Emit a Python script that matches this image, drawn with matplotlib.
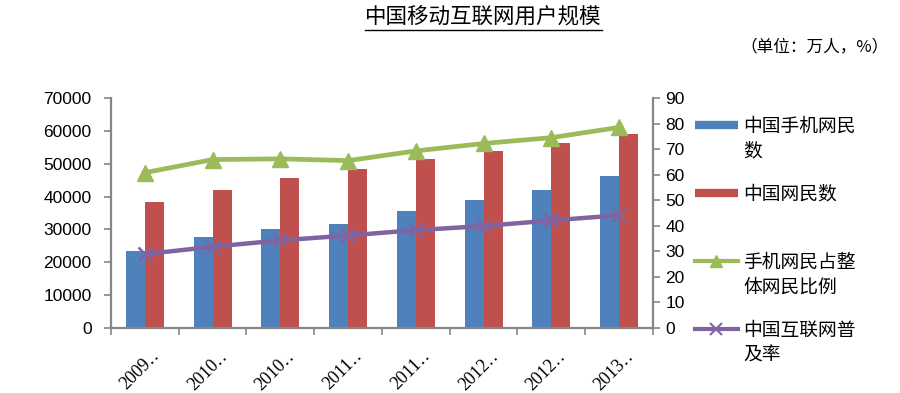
import matplotlib
matplotlib.use('Agg')
import matplotlib.pyplot as plt
from matplotlib.lines import Line2D
import numpy as np

plt.rcParams['font.family'] = ['Noto Sans CJK SC', 'DejaVu Sans']

# 数据
periods = ['2009‥', '2010‥', '2010‥', '2011‥', '2011‥', '2012‥', '2012‥', '2013‥']
mobile_users = [23344, 27678, 30274, 31768, 35558, 38825, 41997, 46373]
net_users = [38400, 42000, 45730, 48500, 51310, 53760, 56400, 59056]
mobile_ratio = [60.8, 65.9, 66.2, 65.5, 69.3, 72.2, 74.5, 78.5]
penetration = [28.9, 31.8, 34.3, 36.2, 38.3, 39.9, 42.1, 44.1]

labels = ['中国手机网民\n数', '中国网民数', '手机网民占整\n体网民比例', '中国互联网普\n及率']

c_blue = '#4F81BD'
c_red = '#C0504D'
c_green = '#9BBB59'
c_purple = '#8064A2'
c_axis = '#868686'

fig = plt.figure(figsize=(9, 3.93), dpi=100)
ax = fig.add_axes([0.1233, 0.1654, 0.6022, 0.5852])
ax2 = ax.twinx()

x = np.arange(len(periods))
w = 0.28
ax.bar(x - w / 2, mobile_users, w, color=c_blue, zorder=2)
ax.bar(x + w / 2, net_users, w, color=c_red, zorder=2)

ax2.plot(x, mobile_ratio, color=c_green, lw=3.4, marker='^', ms=11, zorder=3)
ax2.plot(x, penetration, color=c_purple, lw=3.2, marker='x', ms=10, mew=1.8, zorder=3)

ax.set_xlim(-0.5, len(periods) - 0.5)
ax.set_ylim(0, 70000)
ax.set_yticks(np.arange(0, 70001, 10000))
ax2.set_ylim(0, 90)
ax2.set_yticks(np.arange(0, 91, 10))

# x 轴刻度在类别边界
ax.set_xticks(x + 0.09)
ax.set_xticklabels(periods, rotation=45, ha='right', rotation_mode='anchor',
                   family=['Liberation Serif', 'DejaVu Serif'], fontsize=13)
ax.set_xticks(np.arange(-0.5, len(periods)), minor=True)
ax.tick_params(axis='x', which='major', length=0, pad=14)
ax.tick_params(axis='x', which='minor', length=5, width=1.2, color=c_axis)

ax.tick_params(axis='y', length=5, width=1.2, color=c_axis, pad=9, labelsize=12.5)
ax2.tick_params(axis='y', length=5, width=1.2, color=c_axis, pad=4, labelsize=12.5)
for t in ax.get_yticklabels() + ax2.get_yticklabels():
    t.set_family(['Liberation Sans', 'DejaVu Sans'])

for a in (ax, ax2):
    a.spines['top'].set_visible(False)
    for s in ('left', 'right', 'bottom'):
        a.spines[s].set_color(c_axis)
        a.spines[s].set_linewidth(1.6)
ax.spines['right'].set_visible(False)
ax2.spines['left'].set_visible(False)
ax2.spines['bottom'].set_visible(False)

# 图例（每项第一行放在图例里，第二行另写）
first_lines = [l.split('\n')[0] for l in labels]
handles = [
    Line2D([], [], color=c_blue, lw=6, solid_capstyle='butt'),
    Line2D([], [], color=c_red, lw=6, solid_capstyle='butt'),
    Line2D([], [], color=c_green, lw=3, marker='^', ms=9),
    Line2D([], [], color=c_purple, lw=3, marker='x', ms=8, mew=1.5),
]
leg = fig.legend(handles, first_lines, loc='upper left', bbox_to_anchor=(0.772, 0.705),
                 frameon=False, fontsize=13.5, handlelength=2.3, handletextpad=0.3,
                 labelspacing=2.5, borderpad=0, borderaxespad=0)

# 标题和单位
title = fig.text(0.537, 0.957, '中国移动互联网用户规模', ha='center', va='center', fontsize=15.5)
fig.text(0.905, 0.882, '（单位：万人，%）', ha='center', va='center', fontsize=12)

fig.canvas.draw()
inv = fig.transFigure.inverted()
for t, l in zip(leg.get_texts(), labels):
    parts = l.split('\n')
    if len(parts) > 1:
        bb = t.get_window_extent()
        x0, y0 = inv.transform((bb.x0, bb.y0 - 4))
        fig.text(x0, y0, parts[1], ha='left', va='top', fontsize=13.5)

# 标题下划线
bb = title.get_window_extent()
(ux0, uy), (ux1, _) = inv.transform([(bb.x0, bb.y0 - 2), (bb.x1, bb.y0 - 2)])
fig.add_artist(Line2D([ux0, ux1], [uy, uy], color='black', lw=1))

fig.savefig('out.png', dpi=100)
